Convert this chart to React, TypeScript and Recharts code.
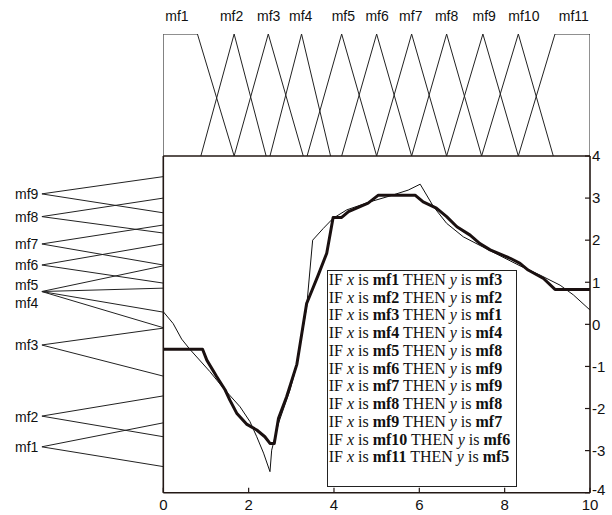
import { LineChart, Line, XAxis, YAxis } from 'recharts';

const W = 612;
const H = 515;
const INK = '#231815';
const SANS = '"Liberation Sans", Arial, sans-serif';
const SERIF = '"Liberation Serif", "Times New Roman", serif';

// input membership functions (top panel)
const xMfNames = ['mf1', 'mf2', 'mf3', 'mf4', 'mf5', 'mf6', 'mf7', 'mf8', 'mf9', 'mf10', 'mf11'];
const xMfLabelPos = [0.32, 1.6, 2.47, 3.22, 4.22, 5.01, 5.8, 6.64, 7.52, 8.45, 9.62];
const xMfX = [
  [0, 0, 0.8, 1.66],
  [0.88, 1.66, 2.41],
  [1.66, 2.46, 3.28],
  [2.5, 3.24, 3.92],
  [3.37, 4.18, 5.0],
  [4.18, 5.0, 5.82],
  [5.0, 5.82, 6.64],
  [5.82, 6.64, 7.46],
  [6.64, 7.49, 8.32],
  [7.46, 8.32, 9.14],
  [8.32, 9.18, 10, 10],
];
const xMfMu = [
  [0, 1, 1, 0],
  [0, 1, 0],
  [0, 1, 0],
  [0, 1, 0],
  [0, 1, 0],
  [0, 1, 0],
  [0, 1, 0],
  [0, 1, 0],
  [0, 1, 0],
  [0, 1, 0],
  [0, 1, 1, 0],
];

// output membership functions (left panel)
const yMfNames = ['mf1', 'mf2', 'mf3', 'mf4', 'mf5', 'mf6', 'mf7', 'mf8', 'mf9'];
const yMfLabelPos = [-2.91, -2.2, -0.5, 0.5, 0.93, 1.41, 1.91, 2.56, 3.09];
const yMfPeak = [-2.91, -2.18, -0.49, 0.78, 0.78, 1.41, 1.91, 2.56, 3.1];
const yMfLow = [-3.38, -2.67, -1.23, -0.08, 0.29, 0.98, 1.41, 2.17, 2.65];
const yMfHigh = [-2.34, -1.7, -0.09, 0.86, 1.39, 1.91, 2.36, 3.0, 3.51];

// target function (thin) and fuzzy approximation (thick)
const targetX = [0, 0.23, 0.43, 0.62, 1.09, 1.41, 1.8, 2.03, 2.19, 2.35, 2.5, 2.54, 2.7, 2.97, 3.12, 3.36, 3.5, 3.75, 3.98, 4.3, 4.84, 5.31, 5.74, 6.02, 6.33, 6.64, 7.03, 7.66, 8.36, 8.83, 9.3, 9.61, 10];
const targetY = [0.3, 0.02, -0.35, -0.59, -1.12, -1.52, -1.96, -2.31, -2.67, -3.06, -3.5, -2.99, -2.35, -1.56, -1.0, 0.42, 2.0, 2.28, 2.52, 2.72, 2.91, 3.05, 3.19, 3.33, 2.8, 2.4, 2.08, 1.75, 1.39, 1.17, 0.93, 0.7, 0.34];
const fuzzyX = [0, 0.92, 1.02, 1.25, 1.45, 1.56, 1.72, 1.95, 2.19, 2.38, 2.5, 2.6, 2.7, 2.89, 3.13, 3.36, 3.41, 3.63, 3.83, 3.98, 4.18, 4.34, 4.61, 4.8, 5.04, 5.9, 6.09, 6.4, 6.64, 6.88, 7.19, 7.42, 7.66, 8.13, 8.36, 8.55, 8.91, 9.18, 10];
const fuzzyY = [-0.59, -0.59, -0.85, -1.24, -1.56, -1.8, -2.11, -2.37, -2.51, -2.67, -2.83, -2.83, -2.23, -1.72, -0.95, 0.5, 0.62, 1.17, 1.69, 2.54, 2.54, 2.68, 2.8, 2.88, 3.07, 3.07, 2.91, 2.76, 2.56, 2.32, 2.12, 1.92, 1.77, 1.57, 1.45, 1.29, 1.09, 0.83, 0.83];

const xTicks = [0, 2, 4, 6, 8, 10];
const yTicks = [-4, -3, -2, -1, 0, 1, 2, 3, 4];

// rule base
const ruleIn = ['mf1', 'mf2', 'mf3', 'mf4', 'mf5', 'mf6', 'mf7', 'mf8', 'mf9', 'mf10', 'mf11'];
const ruleOut = ['mf3', 'mf2', 'mf1', 'mf4', 'mf8', 'mf9', 'mf9', 'mf8', 'mf7', 'mf6', 'mf5'];

const xMfData = xMfX.map((xs, i) => xs.map((x, j) => ({ x, mu: xMfMu[i][j] })));
const yMfData = yMfNames.map((_, i) => [
  { m: 0, v: yMfLow[i] },
  { m: 1, v: yMfPeak[i] },
  { m: 0, v: yMfHigh[i] },
]);
const targetData = targetX.map((x, i) => ({ x, y: targetY[i] }));
const fuzzyData = fuzzyX.map((x, i) => ({ x, y: fuzzyY[i] }));

const layer: React.CSSProperties = { position: 'absolute', left: 0, top: 0 };

// right-axis labels; the lowest one sits a little raised, as in the original
function RightTick(props: any) {
  const { x, y, payload } = props;
  const v = payload.value as number;
  return (
    <text x={x} y={y} dy={v === yTicks[0] ? 2 : 5.3} textAnchor="start" fontSize={15} fill="#111" fontFamily={SANS}>
      {v}
    </text>
  );
}

export default function App() {
  return (
    <div style={{ position: 'absolute', left: 0, top: 0, width: W, height: H, background: '#fff' }}>
      {/* top panel: input MFs */}
      <div style={layer}>
        <LineChart width={W} height={H} margin={{ top: 0, right: 22, bottom: 359, left: 163.3 }}>
          <XAxis
            xAxisId="lab"
            dataKey="x"
            orientation="top"
            type="number"
            domain={[0, 10]}
            ticks={xMfLabelPos}
            interval={0}
            height={34}
            axisLine={false}
            tickLine={false}
            tickSize={0}
            tickMargin={13}
            allowDataOverflow
            tickFormatter={(v: number) => xMfNames[xMfLabelPos.indexOf(v)] ?? ''}
            tick={{ fontSize: 14, fill: '#111', fontFamily: SANS }}
          />
          <YAxis domain={[0, 1]} hide allowDataOverflow />
          {xMfData.map((d, i) => (
            <Line key={i} xAxisId="lab" data={d} dataKey="mu" stroke="#222" strokeWidth={1} dot={false} isAnimationActive={false} />
          ))}
        </LineChart>
      </div>

      {/* left panel: output MFs */}
      <div style={layer}>
        <LineChart width={W} height={H} margin={{ top: 156, right: 448.7, bottom: 22.3, left: 0 }}>
          <XAxis dataKey="m" type="number" domain={[0, 1]} reversed hide allowDataOverflow />
          <YAxis
            type="number"
            domain={[-4, 4]}
            ticks={yMfLabelPos}
            interval={0}
            width={41.7}
            axisLine={false}
            tickLine={false}
            tickSize={0}
            tickMargin={3.3}
            allowDataOverflow
            tickFormatter={(v: number) => yMfNames[yMfLabelPos.indexOf(v)] ?? ''}
            tick={{ fontSize: 14, fill: '#111', fontFamily: SANS }}
          />
          {yMfData.map((d, i) => (
            <Line key={i} data={d} dataKey="v" stroke="#222" strokeWidth={1} dot={false} isAnimationActive={false} />
          ))}
        </LineChart>
      </div>

      {/* main panel */}
      <div style={layer}>
        <LineChart width={W} height={H} margin={{ top: 155, right: 0, bottom: 0, left: 162.3 }}>
          <XAxis
            dataKey="x"
            type="number"
            domain={[0, 10]}
            ticks={xTicks}
            interval={0}
            height={22.3}
            allowDataOverflow
            axisLine={{ stroke: INK, strokeWidth: 1.6 }}
            tickLine={{ stroke: INK, strokeWidth: 1.2 }}
            tickSize={-5}
            tickMargin={11.6}
            tick={{ fontSize: 15, fill: '#111', fontFamily: SANS }}
          />
          <XAxis
            xAxisId="top"
            dataKey="x"
            orientation="top"
            type="number"
            domain={[0, 10]}
            ticks={xTicks}
            interval={0}
            height={1}
            allowDataOverflow
            axisLine={{ stroke: INK, strokeWidth: 1.6 }}
            tickLine={{ stroke: INK, strokeWidth: 1.2 }}
            tickSize={-5}
            tick={false}
          />
          <YAxis
            yAxisId="left"
            type="number"
            domain={[-4, 4]}
            ticks={yTicks}
            interval={0}
            width={1}
            allowDataOverflow
            axisLine={{ stroke: INK, strokeWidth: 1.6 }}
            tickLine={{ stroke: INK, strokeWidth: 1.2 }}
            tickSize={-5}
            tick={false}
          />
          <YAxis
            yAxisId="right"
            orientation="right"
            type="number"
            domain={[-4, 4]}
            ticks={yTicks}
            interval={0}
            width={22}
            allowDataOverflow
            axisLine={{ stroke: INK, strokeWidth: 1.6 }}
            tickLine={{ stroke: INK, strokeWidth: 1.2 }}
            tickSize={-5}
            tickMargin={7}
            tick={<RightTick />}
          />
          <Line xAxisId="top" yAxisId="right" data={targetData} dataKey="y" stroke="#111" strokeWidth={1} dot={false} isAnimationActive={false} />
          <Line yAxisId="left" data={fuzzyData} dataKey="y" stroke="#1a1010" strokeWidth={3} strokeLinejoin="round" dot={false} isAnimationActive={false} />
        </LineChart>
      </div>

      {/* rule base box */}
      <div
        style={{
          position: 'absolute',
          left: 326.7,
          top: 270,
          width: 190,
          height: 216.7,
          boxSizing: 'border-box',
          border: '1px solid #222',
          background: '#fff',
          fontFamily: SERIF,
          fontSize: 16,
          lineHeight: '17.73px',
          padding: '0 0 0 1px',
          color: '#111',
          whiteSpace: 'nowrap',
        }}
      >
        {ruleIn.map((m, i) => (
          <div key={m}>
            IF <i>x</i> is <b>{m}</b> THEN <i>y</i> is <b>{ruleOut[i]}</b>
          </div>
        ))}
      </div>
    </div>
  );
}
